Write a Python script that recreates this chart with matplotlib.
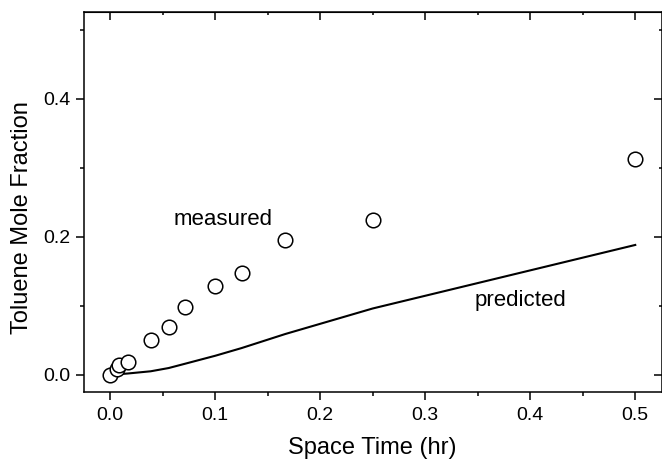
import matplotlib
matplotlib.use("Agg")
import matplotlib.pyplot as plt
from matplotlib.ticker import MultipleLocator

plt.rcParams['font.family'] = ['Liberation Sans', 'DejaVu Sans']

# measured data
meas_x = [0.0, 0.0069, 0.0083, 0.0167, 0.0385, 0.0556, 0.0714, 0.1, 0.125, 0.1667, 0.25, 0.5]
meas_y = [0.0, 0.009, 0.0135, 0.019, 0.050, 0.069, 0.098, 0.128, 0.147, 0.195, 0.224, 0.313]

# predicted curve
pred_x = [0.0, 0.0083, 0.0167, 0.0385, 0.0556, 0.0714, 0.1, 0.125, 0.1667, 0.25, 0.5]
pred_y = [0.0, 0.0008, 0.0018, 0.005, 0.0097, 0.016, 0.0275, 0.0386, 0.059, 0.096, 0.188]

x_ticks = [0.0, 0.1, 0.2, 0.3, 0.4, 0.5]
y_ticks = [0.0, 0.2, 0.4]

W, H = 662, 463
fig = plt.figure(figsize=(W / 100, H / 100), dpi=100)
ax = fig.add_axes([84 / W, 1 - 392 / H, (661.5 - 84) / W, (392 - 12.3) / H])

ax.plot(pred_x, pred_y, color='black', lw=1.5, zorder=2)
ax.plot(meas_x, meas_y, linestyle='none', marker='o', markersize=10.5,
        markerfacecolor='white', markeredgecolor='black', markeredgewidth=1.1, zorder=3)

ax.set_xlim(-0.025, 0.525)
ax.set_ylim(-0.025, 0.525)
ax.set_xticks(x_ticks)
ax.set_yticks(y_ticks)
ax.set_xticklabels([f"{v:.1f}" for v in x_ticks])
ax.set_yticklabels([f"{v:.1f}" for v in y_ticks])
ax.xaxis.set_minor_locator(MultipleLocator(0.05))
ax.yaxis.set_minor_locator(MultipleLocator(0.1))

for s in ax.spines.values():
    s.set_linewidth(1.1)

ax.tick_params(axis='both', which='major', direction='out', length=6, width=1.1,
               labelsize=14, pad=4, top=False, right=False)
ax.tick_params(axis='both', which='minor', direction='out', length=3, width=1.1,
               top=False, right=False)
ax.tick_params(axis='x', which='major', pad=5)

# inward ticks on top and right (no labels)
axt = ax.secondary_xaxis('top')
axt.set_xticks(x_ticks)
axt.xaxis.set_minor_locator(MultipleLocator(0.05))
axt.tick_params(which='major', direction='in', length=6, width=1.1, labeltop=False)
axt.tick_params(which='minor', direction='in', length=2, width=1.1, labeltop=False)
axr = ax.secondary_yaxis('right')
axr.set_yticks(y_ticks)
axr.yaxis.set_minor_locator(MultipleLocator(0.1))
axr.tick_params(which='major', direction='in', length=6, width=1.1, labelright=False)
axr.tick_params(which='minor', direction='in', length=2, width=1.1, labelright=False)

ax.set_xlabel('Space Time (hr)', fontsize=17, labelpad=9)
fig.text(21.7 / W, 1 - 218 / H, 'Toluene Mole Fraction', fontsize=17,
         rotation=90, ha='center', va='center')

ax.text(0.107, 0.217, 'measured', fontsize=16, ha='center', va='baseline')
ax.text(0.391, 0.100, 'predicted', fontsize=16, ha='center', va='baseline')

fig.savefig('out.png', dpi=100)
